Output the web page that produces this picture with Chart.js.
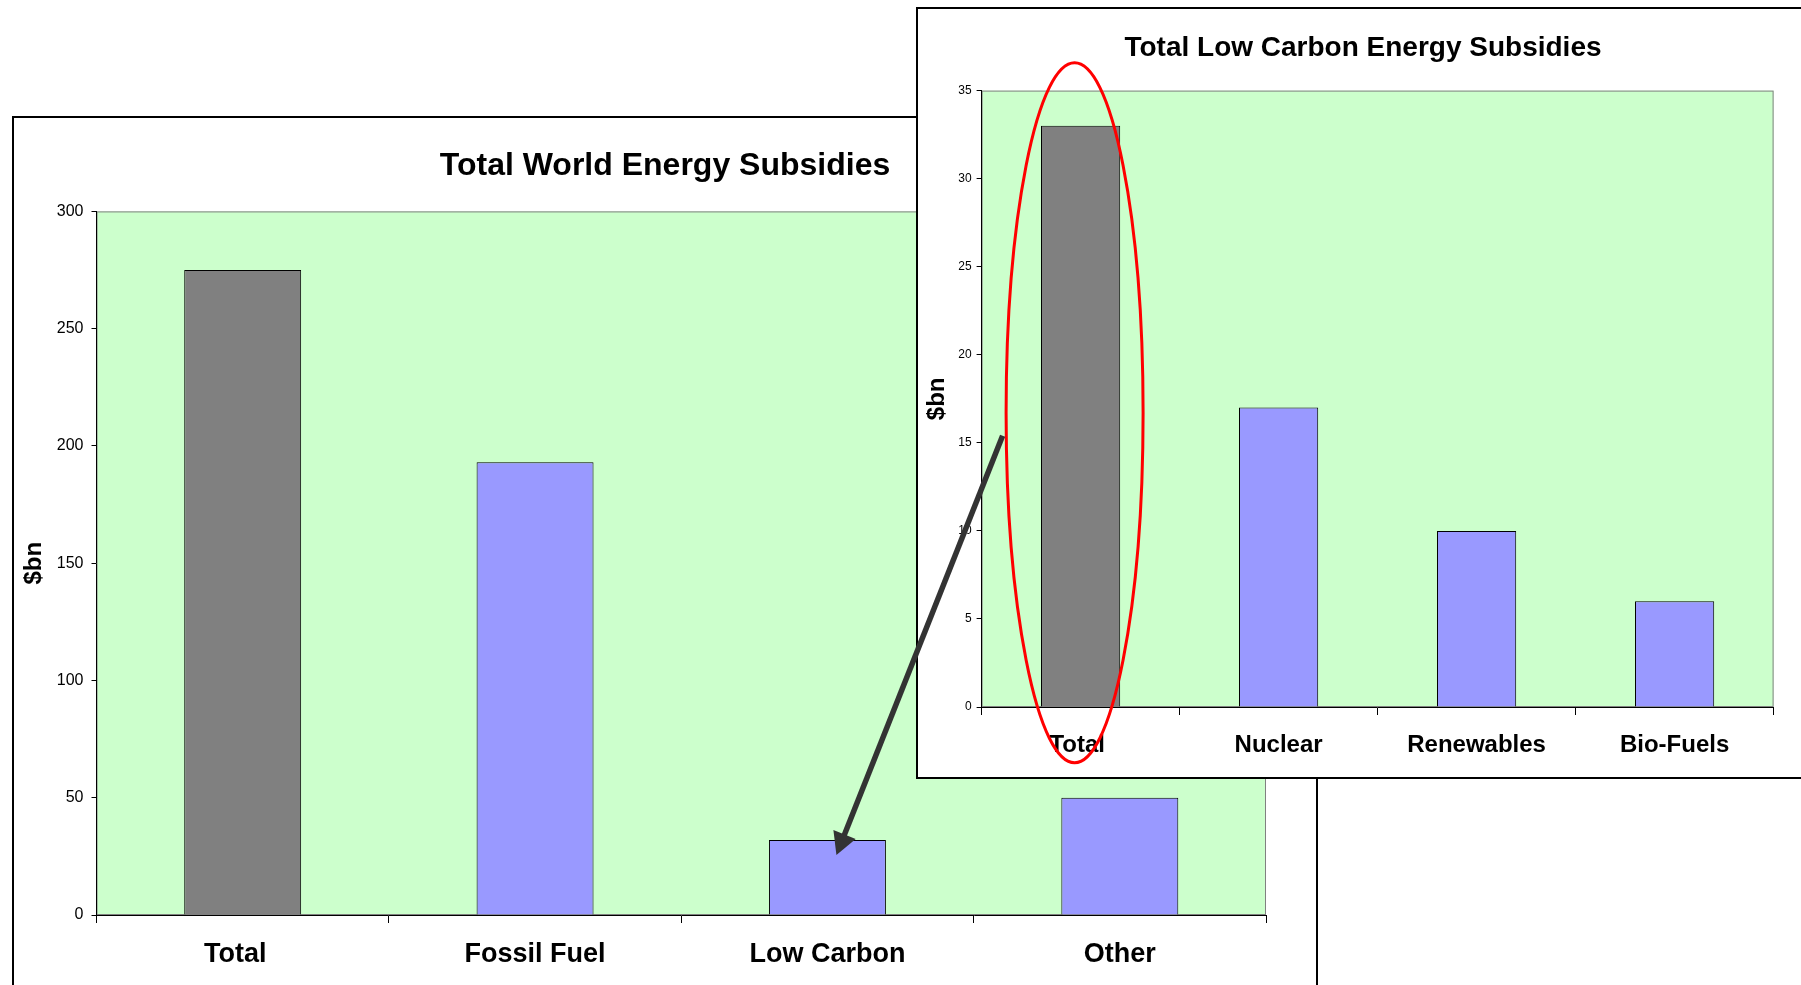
<!DOCTYPE html>
<html>
<head>
<meta charset="utf-8">
<title>Energy Subsidies</title>
<script src="https://cdn.jsdelivr.net/npm/chart.js@4.4.0/dist/chart.umd.min.js"></script>
<style>
  body { margin: 0; width: 1801px; height: 985px; overflow: hidden; background: #fff; }
  .frame { position: absolute; border: 2px solid #000; background: #fff; box-sizing: border-box; }
  #mainFrame { left: 12px; top: 116px; width: 1306px; height: 900px; }
  #insetFrame { left: 916px; top: 7px; width: 894px; height: 772px; }
  .frame canvas { display: block; }
  #overlay { position: absolute; left: 0; top: 0; pointer-events: none; }
</style>
</head>
<body>
<div class="frame" id="mainFrame"><canvas id="worldChart" width="1302" height="896"></canvas></div>
<div class="frame" id="insetFrame"><canvas id="lowCarbonChart" width="890" height="768"></canvas></div>
<canvas id="overlay" width="1801" height="985"></canvas>
<script>
const FONT = '"Liberation Sans", Arial, sans-serif';

// world totals ($bn)
const worldCategories = ['Total  ', 'Fossil Fuel', 'Low Carbon', 'Other'];
const worldValues = [275, 193, 32, 50];
const worldTicks = [0, 50, 100, 150, 200, 250, 300];

// low carbon breakdown ($bn)
const lowCarbonCategories = ['Total ', 'Nuclear', 'Renewables', 'Bio-Fuels'];
const lowCarbonValues = [33, 17, 10, 6];
const lowCarbonTicks = [0, 5, 10, 15, 20, 25, 30, 35];

const barColours = ['#808080', '#9999FF', '#9999FF', '#9999FF'];

// green plot area with grey outline, drawn under the axes
const plotArea = {
    id: 'plotArea',
    beforeDraw(chart) {
        const { ctx, chartArea: a } = chart;
        ctx.save();
        ctx.fillStyle = '#CCFFCC';
        ctx.fillRect(a.left, a.top, a.width, a.height);
        ctx.strokeStyle = '#808080';
        ctx.lineWidth = 1;
        ctx.strokeRect(a.left + 0.5, a.top + 0.5, a.width - 1, a.height - 1);
        ctx.restore();
    }
};

// red ring round the total bar of the small chart
const highlight = {
    id: 'highlight',
    afterDraw(chart) {
        const { ctx, chartArea: a } = chart;
        const cx = chart.scales.x.getPixelForValue(0) - 6;
        const cy = (a.top + a.bottom) / 2 + 14;
        ctx.save();
        ctx.strokeStyle = '#FF0000';
        ctx.lineWidth = 3;
        ctx.beginPath();
        ctx.ellipse(cx, cy, 68.5, 350, 0, 0, Math.PI * 2);
        ctx.stroke();
        ctx.restore();
    }
};

function barChart(id, labels, values, ticks, opts) {
    return new Chart(document.getElementById(id), {
        type: 'bar',
        data: {
            labels: labels,
            datasets: [{
                data: values,
                yAxisID: 'y',
                backgroundColor: barColours,
                borderColor: '#000',
                borderWidth: 1,
                barPercentage: 0.4,
                categoryPercentage: 1.0
            }]
        },
        plugins: opts.plugins,
        options: {
            responsive: false,
            animation: false,
            layout: { padding: 0 },
            plugins: {
                legend: { display: false },
                tooltip: { enabled: false },
                title: {
                    display: true,
                    text: opts.title,
                    color: '#000',
                    font: { family: FONT, size: opts.titleSize, weight: 'bold' },
                    padding: opts.titlePad
                }
            },
            scales: {
                x: {
                    offset: true,
                    grid: { display: true, offset: true, drawOnChartArea: false, tickLength: 8, color: '#000' },
                    border: { color: '#000', width: 1 },
                    ticks: {
                        color: '#000',
                        font: { family: FONT, size: opts.catSize, weight: 'bold' },
                        padding: opts.catPad,
                        maxRotation: 0,
                        autoSkip: false
                    },
                    afterFit: s => { s.height = opts.xHeight; }
                },
                y: {
                    min: 0,
                    max: ticks[ticks.length - 1],
                    grid: { drawOnChartArea: false, tickLength: 5, color: '#000' },
                    border: { color: '#000', width: 1 },
                    ticks: {
                        color: '#000',
                        font: { family: FONT, size: opts.tickSize },
                        padding: opts.tickPad
                    },
                    title: {
                        display: true,
                        text: '$bn',
                        color: '#000',
                        font: { family: FONT, size: 24, weight: 'bold' },
                        padding: { top: opts.yTitlePad, bottom: 0 }
                    },
                    afterBuildTicks: s => { s.ticks = ticks.map(v => ({ value: v })); },
                    afterFit: s => { s.width = opts.yWidth; }
                },
                // empty right-hand margin, keeps the title centred on the whole frame
                margin: {
                    axis: 'y',
                    position: 'right',
                    grid: { display: false },
                    border: { display: false },
                    ticks: { display: false },
                    afterFit: s => { s.width = opts.padRight; }
                }
            }
        }
    });
}

const worldChart = barChart('worldChart', worldCategories, worldValues, worldTicks, {
    title: 'Total World Energy Subsidies',
    titleSize: 32,
    titlePad: { top: 28.5, bottom: 26.5 },
    catSize: 27,
    catPad: 15,
    tickSize: 16,
    tickPad: 8,
    yTitlePad: 6,
    yWidth: 82.5,
    xHeight: 99,
    padRight: 50,
    plugins: [plotArea]
});

const lowCarbonChart = barChart('lowCarbonChart', lowCarbonCategories, lowCarbonValues, lowCarbonTicks, {
    title: 'Total Low Carbon Energy Subsidies',
    titleSize: 28,
    titlePad: { top: 22.5, bottom: 25.5 },
    catSize: 24,
    catPad: 16,
    tickSize: 12,
    tickPad: 5,
    yTitlePad: 4.6,
    yWidth: 63.6,
    xHeight: 70,
    padRight: 34.4,
    plugins: [plotArea, highlight]
});

// arrow from the small chart down to the Low Carbon bar
function drawArrow() {
    const ctx = document.getElementById('overlay').getContext('2d');
    const mb = document.getElementById('worldChart').getBoundingClientRect();
    const ib = document.getElementById('lowCarbonChart').getBoundingClientRect();
    const tipX = mb.left + worldChart.scales.x.getPixelForValue(2) + 9;
    const tipY = mb.top + worldChart.scales.y.getPixelForValue(worldValues[2]) + 15;
    const startX = ib.left + lowCarbonChart.chartArea.left + 21;
    const startY = ib.top + lowCarbonChart.scales.y.getPixelForValue(15.4);

    const dx = tipX - startX, dy = tipY - startY;
    const len = Math.hypot(dx, dy);
    const ux = dx / len, uy = dy / len;
    const headLen = 22, headHalf = 12;
    const baseX = tipX - ux * headLen, baseY = tipY - uy * headLen;

    ctx.strokeStyle = '#333333';
    ctx.fillStyle = '#333333';
    ctx.lineWidth = 5.5;
    ctx.lineCap = 'butt';
    ctx.beginPath();
    ctx.moveTo(startX, startY);
    ctx.lineTo(baseX + ux * 2, baseY + uy * 2);
    ctx.stroke();

    ctx.beginPath();
    ctx.moveTo(tipX, tipY);
    ctx.lineTo(baseX - uy * headHalf, baseY + ux * headHalf);
    ctx.lineTo(baseX + uy * headHalf, baseY - ux * headHalf);
    ctx.closePath();
    ctx.fill();
}

drawArrow();
</script>
</body>
</html>
